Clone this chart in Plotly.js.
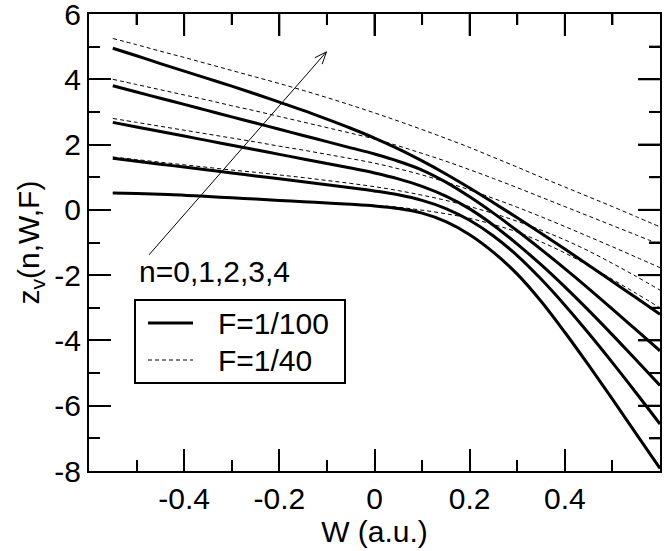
<!DOCTYPE html>
<html>
<head>
<meta charset="utf-8">
<script src="https://cdn.plot.ly/plotly-3.0.1.min.js"></script>
<style>
  body { margin: 0; background: white; }
  #plot { width: 664px; height: 551px; }
</style>
</head>
<body>
<div id="plot"></div>
<script>
// W (a.u.), read every 0.05
var W = [-0.55, -0.5, -0.45, -0.4, -0.35, -0.3, -0.25, -0.2, -0.15, -0.1, -0.05, 0,
         0.05, 0.1, 0.15, 0.2, 0.25, 0.3, 0.35, 0.4, 0.45, 0.5, 0.55, 0.6];

// F = 1/100 (solid), n = 0..4
var zF100 = [
  [0.52, 0.5, 0.475, 0.45, 0.41, 0.37, 0.33, 0.29, 0.25, 0.21, 0.17, 0.12,
   0.04, -0.1, -0.36, -0.76, -1.3, -1.97, -2.8, -3.75, -4.76, -5.8, -6.86, -7.92],
  [1.58, 1.49, 1.4, 1.31, 1.22, 1.13, 1.04, 0.95, 0.86, 0.77, 0.68, 0.58,
   0.46, 0.29, 0.04, -0.32, -0.8, -1.4, -2.12, -2.92, -3.78, -4.68, -5.61, -6.56],
  [2.68, 2.54, 2.4, 2.26, 2.12, 1.98, 1.84, 1.7, 1.56, 1.42, 1.28, 1.13,
   0.95, 0.72, 0.42, 0.03, -0.47, -1.05, -1.68, -2.36, -3.08, -3.83, -4.6, -5.38],
  [3.8, 3.61, 3.42, 3.23, 3.04, 2.85, 2.66, 2.47, 2.28, 2.09, 1.9, 1.71,
   1.49, 1.22, 0.85, 0.4, -0.1, -0.64, -1.21, -1.8, -2.41, -3.04, -3.68, -4.32],
  [4.95, 4.72, 4.48, 4.25, 4.02, 3.79, 3.55, 3.3, 3.05, 2.78, 2.5, 2.2,
   1.87, 1.5, 1.1, 0.67, 0.22, -0.24, -0.715, -1.2, -1.695, -2.195, -2.695, -3.2]
];

// F = 1/40 (dashed), n = 0..4
var zF40 = [
  [0.52, 0.5, 0.475, 0.45, 0.41, 0.37, 0.335, 0.3, 0.26, 0.22, 0.18, 0.14,
   0.08, -0.01, -0.12, -0.26, -0.45, -0.68, -0.98, -1.32, -1.71, -2.13, -2.56, -3.0],
  [1.62, 1.54, 1.46, 1.38, 1.3, 1.22, 1.15, 1.07, 0.99, 0.9, 0.81, 0.71,
   0.59, 0.45, 0.29, 0.1, -0.11, -0.35, -0.62, -0.92, -1.26, -1.64, -2.04, -2.46],
  [2.8, 2.68, 2.56, 2.44, 2.32, 2.2, 2.08, 1.95, 1.83, 1.7, 1.57, 1.43,
   1.26, 1.07, 0.85, 0.61, 0.35, 0.08, -0.21, -0.51, -0.82, -1.13, -1.45, -1.77],
  [4.0, 3.84, 3.68, 3.52, 3.36, 3.19, 3.03, 2.86, 2.69, 2.52, 2.35, 2.17,
   1.96, 1.73, 1.49, 1.23, 0.96, 0.68, 0.39, 0.1, -0.19, -0.48, -0.77, -1.06],
  [5.25, 5.06, 4.86, 4.67, 4.47, 4.27, 4.07, 3.87, 3.66, 3.44, 3.21, 2.97,
   2.72, 2.46, 2.19, 1.91, 1.61, 1.31, 1.0, 0.7, 0.4, 0.1, -0.21, -0.52]
];

var seriesNames = ['F=1/100', 'F=1/40'];
var xTickVals = [-0.4, -0.2, 0, 0.2, 0.4];
var xTickText = ['-0.4', '-0.2', '0', '0.2', '0.4'];
var yTickVals = [-8, -6, -4, -2, 0, 2, 4, 6];
var yTickText = ['-8', '-6', '-4', '-2', '0', '2', '4', '6'];

// arrow "n=0,1,2,3,4" (data coords: tail, head)
var arrowTail = [-0.474, -1.38];
var arrowHead = [-0.101, 4.84];

var FONT = 'Liberation Sans, Arial, Helvetica, sans-serif';
var FS = 30;
var xRange = [-0.6, 0.6], yRange = [-8, 6];
var margin = {l: 89, r: 4, t: 14, b: 80};
var plotW = 664 - margin.l - margin.r, plotH = 551 - margin.t - margin.b;
var MAJOR = 22, MINOR = 11;
var sx = plotW / (xRange[1] - xRange[0]), sy = plotH / (yRange[1] - yRange[0]);

var data = [];
zF100.forEach(function(z) {
  data.push({
    x: W, y: z, type: 'scatter', mode: 'lines', name: seriesNames[0], showlegend: false,
    line: {color: 'black', width: 3, shape: 'spline', smoothing: 1},
    hoverinfo: 'skip'
  });
});
zF40.forEach(function(z) {
  data.push({
    x: W, y: z, type: 'scatter', mode: 'lines', name: seriesNames[1], showlegend: false,
    line: {color: 'black', width: 1, dash: '4px,3px', shape: 'spline', smoothing: 1},
    hoverinfo: 'skip'
  });
});

// top / right frame ticks, one path built from the tick spacing
var tx = [], ty = [];
for (var i = -5; i <= 5; i++) {
  var l = (Math.abs(i) % 2 === 0 ? MAJOR : MINOR) / sy;
  tx.push(i / 10, i / 10, null);
  ty.push(yRange[1], yRange[1] - l, null);
}
for (var j = -7; j <= 5; j++) {
  var lx = (Math.abs(j) % 2 === 0 ? MAJOR : MINOR) / sx;
  tx.push(xRange[1], xRange[1] - lx, null);
  ty.push(j, j, null);
}
data.push({
  x: tx, y: ty, type: 'scatter', mode: 'lines', showlegend: false, hoverinfo: 'skip',
  connectgaps: false, cliponaxis: false, line: {color: 'black', width: 2}
});

// open arrow head built in pixel space, converted back to data units
var dxp = (arrowHead[0] - arrowTail[0]) * sx, dyp = (arrowHead[1] - arrowTail[1]) * sy;
var len = Math.sqrt(dxp * dxp + dyp * dyp);
var ux = dxp / len, uy = dyp / len;
var shapes = [{
  type: 'line', xref: 'x', yref: 'y',
  x0: arrowTail[0], y0: arrowTail[1], x1: arrowHead[0], y1: arrowHead[1],
  line: {color: 'black', width: 1}
}];
[-1, 1].forEach(function(s) {
  var a = s * 22 * Math.PI / 180, hl = 13;
  var bx = -(ux * Math.cos(a) - uy * Math.sin(a)) * hl;
  var by = -(ux * Math.sin(a) + uy * Math.cos(a)) * hl;
  shapes.push({
    type: 'line', xref: 'x', yref: 'y',
    x0: arrowHead[0], y0: arrowHead[1],
    x1: arrowHead[0] + bx / sx, y1: arrowHead[1] + by / sy,
    line: {color: 'black', width: 1}
  });
});

// legend box drawn by hand (pixel box 135..345 x 300..383)
function px2paperX(p) { return (p - margin.l) / plotW; }
function px2paperY(p) { return (551 - margin.b - p) / plotH; }
shapes.push({
  type: 'rect', xref: 'paper', yref: 'paper', layer: 'above',
  x0: px2paperX(135), x1: px2paperX(345), y0: px2paperY(383), y1: px2paperY(300),
  line: {color: 'black', width: 2}, fillcolor: 'white'
});
shapes.push({
  type: 'line', xref: 'paper', yref: 'paper', layer: 'above',
  x0: px2paperX(148), x1: px2paperX(193), y0: px2paperY(323), y1: px2paperY(323),
  line: {color: 'black', width: 3}
});
shapes.push({
  type: 'line', xref: 'paper', yref: 'paper', layer: 'above',
  x0: px2paperX(148), x1: px2paperX(193), y0: px2paperY(360), y1: px2paperY(360),
  line: {color: 'black', width: 1, dash: '4px,3px'}
});

var tickStyle = {
  ticks: 'inside', ticklen: MAJOR, tickwidth: 2, tickcolor: 'black',
  showgrid: false, zeroline: false, ticklabeloverflow: 'allow',
  showline: true, linewidth: 2, linecolor: 'black', mirror: 'allticks',
  tickfont: {family: FONT, size: FS, color: 'black'}
};

var layout = {
  width: 664, height: 551,
  margin: margin,
  paper_bgcolor: 'white', plot_bgcolor: 'white',
  font: {family: FONT, color: 'black'},
  showlegend: false,
  xaxis: Object.assign({}, tickStyle, {
    range: xRange, tickmode: 'array', tickvals: xTickVals, ticktext: xTickText,
    minor: {dtick: 0.1, tick0: 0, ticks: 'inside', ticklen: MINOR, tickwidth: 2, tickcolor: 'black', showgrid: false},
    title: {text: 'W (a.u.)', font: {family: FONT, size: FS}, standoff: 4}
  }),
  yaxis: Object.assign({}, tickStyle, {
    range: yRange, tickmode: 'array', tickvals: yTickVals, ticktext: yTickText,
    minor: {dtick: 1, tick0: 0, ticks: 'inside', ticklen: MINOR, tickwidth: 2, tickcolor: 'black', showgrid: false},
    title: {text: 'z<sub>v</sub>(n,W,F)', font: {family: FONT, size: FS}, standoff: 6}
  }),
  shapes: shapes,
  annotations: [{
    xref: 'x', yref: 'y', x: -0.4995, y: -1.9,
    xanchor: 'left', yanchor: 'middle', showarrow: false,
    text: 'n=0,1,2,3,4', font: {family: FONT, size: FS, color: 'black'}
  }, {
    xref: 'paper', yref: 'paper', x: px2paperX(216), y: px2paperY(323),
    xanchor: 'left', yanchor: 'middle', showarrow: false,
    text: seriesNames[0], font: {family: FONT, size: FS, color: 'black'}
  }, {
    xref: 'paper', yref: 'paper', x: px2paperX(216), y: px2paperY(360),
    xanchor: 'left', yanchor: 'middle', showarrow: false,
    text: seriesNames[1], font: {family: FONT, size: FS, color: 'black'}
  }]
};

Plotly.newPlot('plot', data, layout, {displayModeBar: false, staticPlot: true});
</script>
</body>
</html>
